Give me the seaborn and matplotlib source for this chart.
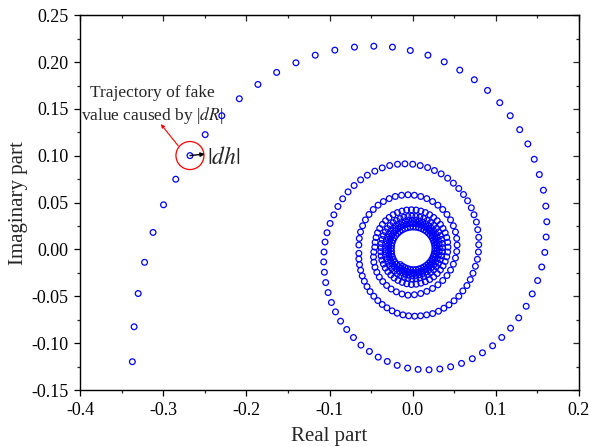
import pandas as pd
import matplotlib
matplotlib.use("Agg")
import matplotlib.pyplot as plt
import seaborn as sns
from matplotlib.patches import Ellipse
from matplotlib.ticker import MultipleLocator, FormatStrFormatter

# ---- data (real part / imaginary part) ----
# outer arm and first full loop
arm_re = [-0.3373, -0.3352, -0.3303, -0.3226, -0.3124, -0.2998, -0.2851, -0.2680, -0.2497, -0.2297,
          -0.2086, -0.1862, -0.1637, -0.1405, -0.1173, -0.0937, -0.0701, -0.0468, -0.0244, -0.0029,
          0.0183, 0.0379, 0.0566, 0.0741, 0.0900, 0.1047, 0.1173, 0.1287, 0.1385, 0.1462,
          0.1523, 0.1572, 0.1601, 0.1613, 0.1605, 0.1589, 0.1552, 0.1503, 0.1438, 0.1365,
          0.1275, 0.1177, 0.1071, 0.0961, 0.0839, 0.0717, 0.0587, 0.0456, 0.0326, 0.0196,
          0.0065, -0.0061, -0.0187, -0.0306, -0.0415, -0.0521, -0.0623, -0.0713, -0.0794, -0.0868,
          -0.0929, -0.0978, -0.1018, -0.1047, -0.1063, -0.1071, -0.1067, -0.1055, -0.1031, -0.0994,
          -0.0949, -0.0900, -0.0843, -0.0778, -0.0705, -0.0627, -0.0546, -0.0456, -0.0367, -0.0277,
          -0.0183, -0.0094, 0.0000, 0.0090, 0.0179, 0.0261, 0.0342, 0.0420, 0.0489, 0.0554,
          0.0611, 0.0660, 0.0705, 0.0737, 0.0766, 0.0782, 0.0794, 0.0794, 0.0790, 0.0778,
          0.0754, 0.0725, 0.0692, 0.0652, 0.0603, 0.0554, 0.0497, 0.0436, 0.0375, 0.0310,
          0.0240, 0.0167, 0.0094, 0.0024, -0.0049, -0.0118, -0.0187, -0.0248, -0.0310, -0.0367]
arm_im = [-0.1198, -0.0825, -0.0470, -0.0137, 0.0182, 0.0477, 0.0750, 0.1002, 0.1226, 0.1428,
          0.1609, 0.1762, 0.1890, 0.1993, 0.2074, 0.2128, 0.2160, 0.2170, 0.2160, 0.2124,
          0.2074, 0.2003, 0.1915, 0.1812, 0.1698, 0.1567, 0.1428, 0.1279, 0.1127, 0.0963,
          0.0800, 0.0633, 0.0463, 0.0296, 0.0133, -0.0031, -0.0187, -0.0332, -0.0474, -0.0606,
          -0.0730, -0.0840, -0.0939, -0.1028, -0.1103, -0.1166, -0.1216, -0.1252, -0.1276, -0.1284,
          -0.1280, -0.1266, -0.1237, -0.1195, -0.1149, -0.1088, -0.1021, -0.0940, -0.0854, -0.0765,
          -0.0666, -0.0566, -0.0460, -0.0353, -0.0243, -0.0133, -0.0027, 0.0080, 0.0179, 0.0278,
          0.0370, 0.0459, 0.0541, 0.0615, 0.0683, 0.0743, 0.0793, 0.0836, 0.0871, 0.0896,
          0.0910, 0.0914, 0.0910, 0.0896, 0.0875, 0.0843, 0.0807, 0.0761, 0.0708, 0.0651,
          0.0587, 0.0520, 0.0445, 0.0371, 0.0293, 0.0211, 0.0130, 0.0051, -0.0027, -0.0105,
          -0.0179, -0.0254, -0.0321, -0.0385, -0.0442, -0.0499, -0.0548, -0.0591, -0.0627, -0.0659,
          -0.0684, -0.0698, -0.0708, -0.0712, -0.0708, -0.0698, -0.0680, -0.0655, -0.0623, -0.0587]

# inner loops (dense part, estimated)
loop3_re = [-0.0420, -0.0468, -0.0513, -0.0550, -0.0582, -0.0607, -0.0627, -0.0640, -0.0648, -0.0648,
            -0.0648, -0.0643, -0.0628, -0.0603, -0.0569, -0.0526, -0.0475, -0.0417, -0.0353, -0.0283, -0.0210, -0.0134, -0.0057,
            0.0020, 0.0096, 0.0169, 0.0239, 0.0303, 0.0361, 0.0412, 0.0455, 0.0489, 0.0514, 0.0529, 0.0534,
            0.0529, 0.0514, 0.0489, 0.0455, 0.0412, 0.0361, 0.0303, 0.0239, 0.0169, 0.0096, 0.0020, -0.0057,
            -0.0129, -0.0197, -0.0259, -0.0314, -0.0361, -0.0402, -0.0432, -0.0454, -0.0468, -0.0472, -0.0468, -0.0456]
loop3_im = [-0.0545, -0.0499, -0.0449, -0.0396, -0.0339, -0.0282, -0.0222, -0.0162, -0.0101, -0.0041,
            0.0048, 0.0118, 0.0187, 0.0253, 0.0316, 0.0374, 0.0427, 0.0473, 0.0512, 0.0543, 0.0566, 0.0579, 0.0584,
            0.0579, 0.0566, 0.0543, 0.0512, 0.0473, 0.0427, 0.0374, 0.0316, 0.0253, 0.0187, 0.0118, 0.0048,
            -0.0022, -0.0091, -0.0157, -0.0220, -0.0278, -0.0331, -0.0377, -0.0416, -0.0447, -0.0470, -0.0483, -0.0488,
            -0.0475, -0.0452, -0.0422, -0.0384, -0.0342, -0.0294, -0.0243, -0.0190, -0.0135, -0.0080, -0.0027, 0.0025]

loop4_re = [-0.0452, -0.0441, -0.0423, -0.0397, -0.0365, -0.0327, -0.0284, -0.0236, -0.0184, -0.0130, -0.0073, -0.0016,
            0.0041, 0.0098, 0.0152, 0.0204, 0.0252, 0.0295, 0.0333, 0.0365, 0.0391, 0.0409, 0.0420, 0.0424,
            0.0420, 0.0409, 0.0391, 0.0365, 0.0333, 0.0295, 0.0252, 0.0204, 0.0152, 0.0098, 0.0041, -0.0016,
            -0.0072, -0.0126, -0.0177, -0.0223, -0.0264, -0.0299, -0.0330, -0.0352, -0.0371, -0.0380, -0.0384, -0.0380]
loop4_im = [0.0077, 0.0128, 0.0178, 0.0225, 0.0268, 0.0307, 0.0342, 0.0371, 0.0394, 0.0410, 0.0421, 0.0424,
            0.0421, 0.0410, 0.0394, 0.0371, 0.0342, 0.0307, 0.0268, 0.0225, 0.0178, 0.0128, 0.0077, 0.0025,
            -0.0027, -0.0078, -0.0128, -0.0175, -0.0218, -0.0257, -0.0292, -0.0321, -0.0344, -0.0360, -0.0371, -0.0374,
            -0.0366, -0.0351, -0.0330, -0.0304, -0.0272, -0.0237, -0.0198, -0.0156, -0.0113, -0.0069, -0.0024, 0.0020]

loop5_re = [-0.0377, -0.0367, -0.0352, -0.0330, -0.0304, -0.0272, -0.0235, -0.0195, -0.0152, -0.0106, -0.0058, -0.0010,
            0.0038, 0.0086, 0.0132, 0.0175, 0.0215, 0.0252, 0.0284, 0.0310, 0.0332, 0.0347, 0.0357, 0.0360,
            0.0357, 0.0347, 0.0332, 0.0310, 0.0284, 0.0252, 0.0215, 0.0175, 0.0132, 0.0086, 0.0038, -0.0010,
            -0.0058, -0.0103, -0.0146, -0.0186, -0.0222, -0.0254, -0.0280, -0.0301, -0.0316, -0.0328, -0.0331, -0.0330]
loop5_im = [0.0064, 0.0107, 0.0148, 0.0188, 0.0224, 0.0257, 0.0286, 0.0310, 0.0330, 0.0344, 0.0352, 0.0355,
            0.0352, 0.0344, 0.0330, 0.0310, 0.0286, 0.0257, 0.0224, 0.0188, 0.0148, 0.0107, 0.0064, 0.0020,
            -0.0024, -0.0067, -0.0108, -0.0148, -0.0184, -0.0217, -0.0246, -0.0270, -0.0290, -0.0304, -0.0312, -0.0315,
            -0.0309, -0.0297, -0.0281, -0.0260, -0.0233, -0.0204, -0.0172, -0.0136, -0.0099, -0.0060, -0.0022, 0.0017]

loop6_re = [-0.0327, -0.0319, -0.0305, -0.0287, -0.0263, -0.0235, -0.0203, -0.0168, -0.0129, -0.0089, -0.0047, -0.0005,
            0.0037, 0.0079, 0.0119, 0.0158, 0.0193, 0.0225, 0.0253, 0.0277, 0.0295, 0.0309, 0.0317, 0.0320,
            0.0317, 0.0309, 0.0295, 0.0277, 0.0253, 0.0225, 0.0193, 0.0158, 0.0119, 0.0079, 0.0037, -0.0005,
            -0.0047, -0.0087, -0.0125, -0.0160, -0.0192, -0.0221, -0.0244, -0.0264, -0.0277, -0.0287, -0.0290, -0.0290]
loop6_im = [0.0056, 0.0093, 0.0130, 0.0165, 0.0197, 0.0226, 0.0251, 0.0273, 0.0290, 0.0302, 0.0310, 0.0312,
            0.0310, 0.0302, 0.0290, 0.0273, 0.0251, 0.0226, 0.0197, 0.0165, 0.0130, 0.0093, 0.0056, 0.0017,
            -0.0022, -0.0059, -0.0096, -0.0131, -0.0163, -0.0192, -0.0217, -0.0239, -0.0256, -0.0268, -0.0276, -0.0278,
            -0.0273, -0.0263, -0.0248, -0.0230, -0.0207, -0.0181, -0.0152, -0.0121, -0.0087, -0.0054, -0.0020, 0.0015]

loop7_re = [-0.0288, -0.0280, -0.0268, -0.0251, -0.0230, -0.0205, -0.0177, -0.0145, -0.0111, -0.0075, -0.0038, 0.0000,
            0.0038, 0.0075, 0.0111, 0.0145, 0.0177, 0.0205, 0.0230, 0.0251, 0.0268, 0.0280, 0.0288, 0.0290,
            0.0288, 0.0280, 0.0268, 0.0251, 0.0230, 0.0205, 0.0177, 0.0145, 0.0111, 0.0075, 0.0038, 0.0000,
            -0.0038, -0.0073, -0.0107, -0.0139, -0.0167, -0.0192, -0.0214, -0.0232, -0.0245, -0.0254, -0.0257, -0.0257]
loop7_im = [0.0049, 0.0083, 0.0115, 0.0146, 0.0175, 0.0200, 0.0223, 0.0242, 0.0257, 0.0268, 0.0275, 0.0277,
            0.0275, 0.0268, 0.0257, 0.0242, 0.0223, 0.0200, 0.0175, 0.0146, 0.0115, 0.0083, 0.0049, 0.0015,
            -0.0019, -0.0053, -0.0085, -0.0116, -0.0145, -0.0170, -0.0193, -0.0212, -0.0227, -0.0238, -0.0245, -0.0247,
            -0.0242, -0.0232, -0.0221, -0.0203, -0.0183, -0.0159, -0.0134, -0.0107, -0.0078, -0.0049, -0.0018, 0.0012]

loop8_re = [-0.0255, -0.0248, -0.0237, -0.0222, -0.0203, -0.0180, -0.0155, -0.0126, -0.0095, -0.0063, -0.0029, 0.0005,
            0.0039, 0.0073, 0.0105, 0.0136, 0.0165, 0.0190, 0.0213, 0.0232, 0.0247, 0.0258, 0.0265, 0.0267,
            0.0265, 0.0258, 0.0247, 0.0232, 0.0213, 0.0190, 0.0165, 0.0136, 0.0105, 0.0073, 0.0039, 0.0005,
            -0.0029, -0.0062, -0.0093, -0.0123, -0.0150]
loop8_im = [0.0042, 0.0071, 0.0099, 0.0126, 0.0151, 0.0173, 0.0193, 0.0209, 0.0223, 0.0232, 0.0238, 0.0240,
            0.0238, 0.0232, 0.0223, 0.0209, 0.0193, 0.0173, 0.0151, 0.0126, 0.0099, 0.0071, 0.0042, 0.0012,
            -0.0018, -0.0047, -0.0075, -0.0102, -0.0127, -0.0149, -0.0169, -0.0185, -0.0199, -0.0208, -0.0214, -0.0216,
            -0.0212, -0.0204, -0.0193, -0.0179, -0.0161]

# marked point and its |dh| neighbourhood
mark_re, mark_im = -0.268, 0.1003

parts = [(arm_re, arm_im), (loop3_re, loop3_im), (loop4_re, loop4_im), (loop5_re, loop5_im),
         (loop6_re, loop6_im), (loop7_re, loop7_im), (loop8_re, loop8_im)]
df = pd.concat([pd.DataFrame({"re": r, "im": i}) for r, i in parts], ignore_index=True)

# =========================
# PLOT
# =========================
sns.set_style("ticks")
plt.rcParams["font.family"] = ["Liberation Serif", "DejaVu Serif"]
plt.rcParams["mathtext.fontset"] = "stix"
plt.rcParams["axes.unicode_minus"] = False

fig = plt.figure(figsize=(5.9, 4.47), dpi=100)
ax = fig.add_axes([0.136, 0.1275, 0.8453, 0.8383])

sns.scatterplot(data=df, x="re", y="im", ax=ax, marker="o", s=17,
                facecolor="none", edgecolor="#0000ff", linewidth=0.9, legend=False)

ax.set_xlim(-0.4, 0.2)
ax.set_ylim(-0.15, 0.25)
ax.xaxis.set_major_locator(MultipleLocator(0.1))
ax.xaxis.set_minor_locator(MultipleLocator(0.05))
ax.yaxis.set_major_locator(MultipleLocator(0.05))
ax.yaxis.set_minor_locator(MultipleLocator(0.025))
ax.xaxis.set_major_formatter(FormatStrFormatter("%.1f"))
ax.yaxis.set_major_formatter(FormatStrFormatter("%.2f"))
ax.tick_params(which="major", direction="out", length=4.5, width=0.9, labelsize=13,
               colors="black", pad=4)
ax.tick_params(which="minor", direction="out", length=2.5, width=0.9)
for sp in ax.spines.values():
    sp.set_linewidth(1.0)
    sp.set_color("black")

# mirrored ticks on top / right pointing inward
top = ax.secondary_xaxis("top")
top.xaxis.set_major_locator(MultipleLocator(0.1))
top.xaxis.set_minor_locator(MultipleLocator(0.05))
top.tick_params(which="major", direction="in", length=4.5, width=0.9, labeltop=False)
top.tick_params(which="minor", direction="in", length=2.5, width=0.9)
right = ax.secondary_yaxis("right")
right.yaxis.set_major_locator(MultipleLocator(0.05))
right.yaxis.set_minor_locator(MultipleLocator(0.025))
right.tick_params(which="major", direction="in", length=4.5, width=0.9, labelright=False)
right.tick_params(which="minor", direction="in", length=2.5, width=0.9)

ax.set_xlabel("Real part", fontsize=15, labelpad=6)
ax.set_ylabel("Imaginary part", fontsize=15, labelpad=2)

# annotation around the marked point
ax.add_patch(Ellipse((mark_re, mark_im), width=0.0337, height=0.0299,
                     fill=False, edgecolor="red", linewidth=0.9))
ax.annotate("", xy=(-0.2501, 0.1018), xytext=(mark_re, mark_im),
            arrowprops=dict(arrowstyle="-|>", color="black", lw=1.0, mutation_scale=6,
                            shrinkA=0, shrinkB=0))
ax.annotate("", xy=(-0.303, 0.1338), xytext=(-0.2822, 0.1107),
            arrowprops=dict(arrowstyle="-|>", color="red", lw=0.8, mutation_scale=5,
                            shrinkA=0, shrinkB=0))
ax.text(-0.3138, 0.1535, "Trajectory of fake\nvalue caused by |$dR$|",
        ha="center", va="center", fontsize=12.5, linespacing=1.3)
ax.text(-0.2477, 0.0979, r"$|dh|$", ha="left", va="center", fontsize=17)

fig.savefig("out.png", dpi=100)
plt.close(fig)
